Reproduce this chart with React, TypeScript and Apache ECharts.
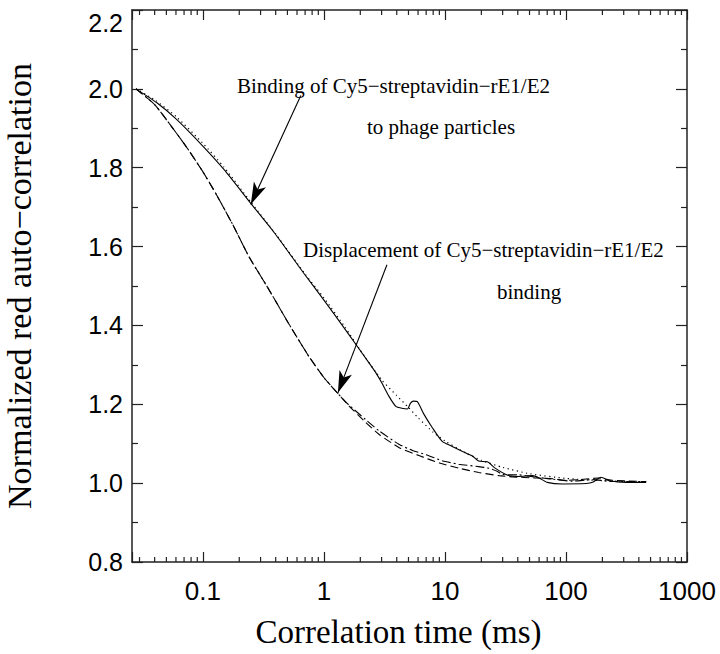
import React, { useEffect, useRef } from "react";
import * as echarts from "echarts";

// ---- axis ranges / ticks ----
const X_MIN = 0.026;
const X_MAX = 1000;
const Y_MIN = 0.8;
const Y_MAX = 2.2;
const Y_STEP = 0.2;
const xMajorTicks = [0.1, 1, 10, 100, 1000];
const xMinorTicks = [
  0.03, 0.04, 0.05, 0.06, 0.07, 0.08, 0.09,
  0.2, 0.3, 0.4, 0.5, 0.6, 0.7, 0.8, 0.9,
  2, 3, 4, 5, 6, 7, 8, 9,
  20, 30, 40, 50, 60, 70, 80, 90,
  200, 300, 400, 500, 600, 700, 800, 900,
];

// ---- binding (solid: data) ----
const bindT = [0.028, 0.042, 0.061, 0.1, 0.15, 0.25, 0.39, 0.68, 0.97, 1.6, 2.36, 2.7, 3.0, 3.45, 3.95, 4.4, 4.9, 5.2, 5.5, 5.9, 6.2, 6.7, 7.9, 9.5, 11.5, 14, 17, 19, 22.5, 26, 33, 41, 53, 60, 70, 94, 147, 166, 195, 229, 314, 460];
const bindY = [2.0, 1.964, 1.922, 1.855, 1.795, 1.709, 1.635, 1.533, 1.47, 1.378, 1.305, 1.279, 1.255, 1.22, 1.194, 1.19, 1.188, 1.203, 1.208, 1.207, 1.196, 1.175, 1.14, 1.106, 1.093, 1.08, 1.068, 1.056, 1.054, 1.038, 1.02, 1.017, 1.019, 1.013, 1.002, 0.998, 0.999, 1.002, 1.015, 1.006, 1.002, 1.002];

// ---- binding fit (dotted) ----
const bindFitT = [0.028, 0.04, 0.06, 0.1, 0.15, 0.25, 0.4, 0.7, 1.0, 1.5, 2.0, 3.0, 4.0, 5.0, 6.0, 8.0, 10, 15, 20, 30, 50, 100, 200, 470];
const bindFitY = [2.0, 1.972, 1.93, 1.862, 1.801, 1.712, 1.632, 1.53, 1.47, 1.395, 1.337, 1.262, 1.222, 1.192, 1.166, 1.129, 1.107, 1.076, 1.058, 1.04, 1.024, 1.012, 1.006, 1.003];

// ---- displacement (dash-dot) ----
const dispT = [0.028, 0.04, 0.055, 0.075, 0.1, 0.13, 0.18, 0.24, 0.35, 0.5, 0.75, 1.0, 1.3, 1.6, 2.2, 2.85, 4.2, 5.4, 7, 9.5, 13, 19, 23, 27, 30, 41, 57, 78, 113, 166, 244, 460];
const dispY = [2.0, 1.96, 1.905, 1.848, 1.79, 1.731, 1.651, 1.575, 1.492, 1.41, 1.322, 1.268, 1.228, 1.199, 1.162, 1.133, 1.098, 1.083, 1.072, 1.057, 1.048, 1.042, 1.038, 1.03, 1.022, 1.021, 1.015, 1.01, 1.005, 1.009, 1.004, 1.004];

// ---- displacement fit (dashed) ----
const dispFitT = [0.028, 0.04, 0.055, 0.075, 0.1, 0.13, 0.18, 0.24, 0.35, 0.5, 0.75, 1.0, 1.3, 1.6, 2.2, 2.85, 4.2, 6.1, 9, 13, 19, 28, 36, 57, 78, 100, 128, 187, 244, 460];
const dispFitY = [2.0, 1.96, 1.905, 1.848, 1.79, 1.731, 1.651, 1.575, 1.492, 1.41, 1.322, 1.268, 1.228, 1.197, 1.155, 1.124, 1.09, 1.07, 1.051, 1.038, 1.027, 1.019, 1.016, 1.013, 1.011, 1.007, 1.009, 1.013, 1.007, 1.004];

// ---- annotations ----
const annotationTexts = [
  "Binding of Cy5\u2212streptavidin\u2212rE1/E2",
  "to phage particles",
  "Displacement of Cy5\u2212streptavidin\u2212rE1/E2",
  "binding",
];
// arrow start / end in data coordinates [t, value]
const arrow1 = [[0.645, 1.983], [0.249, 1.707]];
const arrow2 = [[3.32, 1.554], [1.306, 1.229]];

const zip = (t: number[], y: number[]) => t.map((v, i) => [v, y[i]]);

const SANS = "'Liberation Sans', Arial, Helvetica, sans-serif";
const SERIF = "'Liberation Serif', 'Times New Roman', serif";

export default function App() {
  const ref = useRef<HTMLDivElement>(null);

  useEffect(() => {
    document.body.style.margin = "0";
    if (!ref.current) return;
    const chart = echarts.init(ref.current, undefined, { renderer: "svg" });

    const isPow10 = (v: number) => {
      const l = Math.log10(v);
      return Math.abs(l - Math.round(l)) < 1e-6;
    };

    const lineBase = { type: "line", showSymbol: false, symbol: "none", smooth: 0.2, silent: true, z: 3 };

    const option: any = {
      animation: false,
      backgroundColor: "#fff",
      grid: { left: 132, right: 33, top: 10, bottom: 92, containLabel: false, outerBoundsMode: "none" },
      xAxis: [
        {
          type: "log",
          logBase: 10,
          min: X_MIN,
          max: X_MAX,
          position: "bottom",
          name: "Correlation time (ms)",
          nameLocation: "middle",
          nameGap: 53,
          nameTextStyle: { fontFamily: SERIF, fontSize: 33, color: "#000", padding: [0, 22, 0, 0] },
          axisLine: { show: true, lineStyle: { color: "#222", width: 1.5 } },
          axisTick: { show: true, inside: true, length: 10, lineStyle: { color: "#222", width: 1.2 } },
          axisLabel: {
            show: true,
            margin: 16,
            fontFamily: SANS,
            fontSize: 26,
            color: "#000",
            showMinLabel: true,
            showMaxLabel: true,
            formatter: (v: number) => {
              if (!isPow10(v)) return "";
              const m = xMajorTicks.find((t) => Math.abs(t - v) / t < 1e-6);
              return m !== undefined ? String(m) : "";
            },
          },
          splitLine: { show: false },
        },
        {
          type: "log",
          logBase: 10,
          min: X_MIN,
          max: X_MAX,
          position: "top",
          axisLine: { show: true, lineStyle: { color: "#222", width: 1.5 } },
          axisTick: { show: true, inside: true, length: 10, lineStyle: { color: "#222", width: 1.2 } },
          axisLabel: { show: false },
          splitLine: { show: false },
        },
      ],
      yAxis: [
        {
          type: "value",
          min: Y_MIN,
          max: Y_MAX,
          interval: Y_STEP,
          position: "left",
          name: "Normalized red auto\u2212correlation",
          nameLocation: "middle",
          nameGap: 96,
          nameRotate: 90,
          nameTextStyle: { fontFamily: SERIF, fontSize: 34, color: "#000" },
          axisLine: { show: true, lineStyle: { color: "#222", width: 1.5 } },
          axisTick: { show: true, inside: true, length: 11, lineStyle: { color: "#222", width: 1.2 } },
          minorTick: { show: true, splitNumber: 2, length: 6, lineStyle: { color: "#222", width: 1.2 } },
          axisLabel: {
            margin: 9,
            fontFamily: SANS,
            fontSize: 25,
            color: "#000",
            verticalAlignMaxLabel: "top",
            formatter: (v: number) => v.toFixed(1),
          },
          splitLine: { show: false },
        },
        {
          type: "value",
          min: Y_MIN,
          max: Y_MAX,
          interval: Y_STEP,
          position: "right",
          axisLine: { show: true, lineStyle: { color: "#222", width: 1.5 } },
          axisTick: { show: true, inside: true, length: 11, lineStyle: { color: "#222", width: 1.2 } },
          minorTick: { show: true, splitNumber: 2, length: 6, lineStyle: { color: "#222", width: 1.2 } },
          axisLabel: { show: false },
          splitLine: { show: false },
        },
      ],
      series: [
        {
          ...lineBase,
          name: "binding",
          data: zip(bindT, bindY),
          lineStyle: { color: "#000", width: 1.1, type: "solid" },
          markLine: {
            silent: true,
            symbol: ["none", "arrow"],
            symbolSize: [10, 22],
            label: { show: false },
            lineStyle: { color: "#000", width: 1.1, type: "solid" },
            data: [
              [{ coord: arrow1[0] }, { coord: arrow1[1] }],
              [{ coord: arrow2[0] }, { coord: arrow2[1] }],
            ],
          },
        },
        {
          ...lineBase,
          name: "binding fit",
          data: zip(bindFitT, bindFitY),
          lineStyle: { color: "#000", width: 1.2, type: [1.2, 3.5] },
        },
        {
          ...lineBase,
          name: "displacement",
          data: zip(dispT, dispY),
          lineStyle: { color: "#000", width: 1.1, type: [9, 3, 2, 3] },
        },
        {
          ...lineBase,
          name: "displacement fit",
          data: zip(dispFitT, dispFitY),
          lineStyle: { color: "#000", width: 1.1, type: [8, 4] },
        },
        {
          type: "custom",
          name: "minor x ticks",
          silent: true,
          clip: false,
          z: 5,
          data: xMinorTicks.map((t) => [t, Y_MIN]),
          encode: { x: 0, y: 1 },
          renderItem: (_p: any, api: any) => {
            const t = api.value(0);
            const b = api.coord([t, Y_MIN]);
            const tp = api.coord([t, Y_MAX]);
            const st = { stroke: "#222", lineWidth: 1.2 };
            return {
              type: "group",
              children: [
                { type: "line", shape: { x1: b[0], y1: b[1], x2: b[0], y2: b[1] - 5 }, style: st },
                { type: "line", shape: { x1: tp[0], y1: tp[1], x2: tp[0], y2: tp[1] + 5 }, style: st },
              ],
            };
          },
        },
      ],
      graphic: [
        { type: "text", x: 237, y: 86, style: { text: annotationTexts[0], font: `21px ${SERIF}`, fill: "#000", textVerticalAlign: "middle" } },
        { type: "text", x: 367, y: 127, style: { text: annotationTexts[1], font: `21px ${SERIF}`, fill: "#000", textVerticalAlign: "middle" } },
        { type: "text", x: 303, y: 250, style: { text: annotationTexts[2], font: `21px ${SERIF}`, fill: "#000", textVerticalAlign: "middle" } },
        { type: "text", x: 497, y: 292, style: { text: annotationTexts[3], font: `21px ${SERIF}`, fill: "#000", textVerticalAlign: "middle" } },
      ],
    };

    chart.setOption(option);
    return () => chart.dispose();
  }, []);

  return <div ref={ref} style={{ width: 720, height: 654 }} />;
}
